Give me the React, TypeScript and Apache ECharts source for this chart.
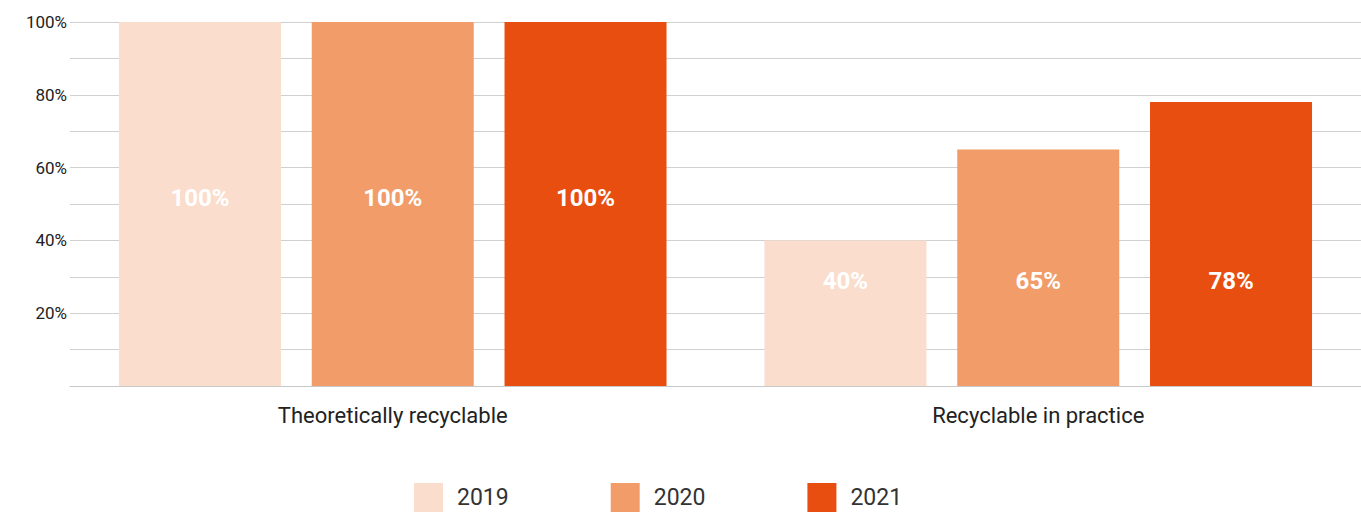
import React, { useEffect, useRef } from "react";
import * as echarts from "echarts";

const categories = ["Theoretically recyclable", "Recyclable in practice"];
const years = ["2019", "2020", "2021"];
const values2019 = [100, 40];
const values2020 = [100, 65];
const values2021 = [100, 78];
const colors = ["#FADDCC", "#F29C6A", "#E84E0F"];
const labelDistances = [176, 93];

export default function App() {
  const ref = useRef<HTMLDivElement>(null);
  useEffect(() => {
    if (!ref.current) return;
    const chart = echarts.init(ref.current, null, { renderer: "svg" });
    const seriesValues = [values2019, values2020, values2021];
    chart.setOption({
      animation: false,
      grid: { left: 70, right: 0, top: 22, bottom: 129 },
      legend: {
        top: 483,
        left: 414,
        padding: 0,
        itemWidth: 29,
        itemHeight: 29,
        itemGap: 102,
        icon: "rect",
        textStyle: { fontSize: 23, lineHeight: 29, color: "#333", fontFamily: "Roboto", padding: [0, 0, 0, 9] },
        data: years,
      },
      xAxis: {
        type: "category",
        data: categories,
        axisLine: { lineStyle: { color: "#c8c8c8" } },
        axisTick: { show: false },
        axisLabel: { fontSize: 22, color: "#222", fontFamily: "Roboto", margin: 18 },
      },
      yAxis: {
        type: "value",
        min: 0,
        max: 100,
        interval: 10,
        axisLine: { show: false },
        axisTick: { show: false },
        splitLine: { lineStyle: { color: "#d0d0d0" } },
        axisLabel: {
          fontSize: 17,
          color: "#222",
          fontFamily: "Roboto",
          margin: 3,
          formatter: (v: number) => (v > 0 && v % 20 === 0 ? v + "%" : ""),
        },
      },
      series: years.map((y, si) => ({
        name: y,
        type: "bar",
        barWidth: 162,
        barGap: "19%",
        itemStyle: { color: colors[si] },
        data: seriesValues[si].map((v, ci) => ({
          value: v,
          label: {
            show: true,
            position: "insideBottom",
            distance: labelDistances[ci],
            formatter: "{c}%",
            color: "#fff",
            fontSize: 24,
            fontWeight: "bold",
            fontFamily: "Roboto",
          },
        })),
      })),
    });
    return () => chart.dispose();
  }, []);
  return <div ref={ref} style={{ position: "absolute", left: 0, top: 0, width: 1361, height: 515 }} />;
}
